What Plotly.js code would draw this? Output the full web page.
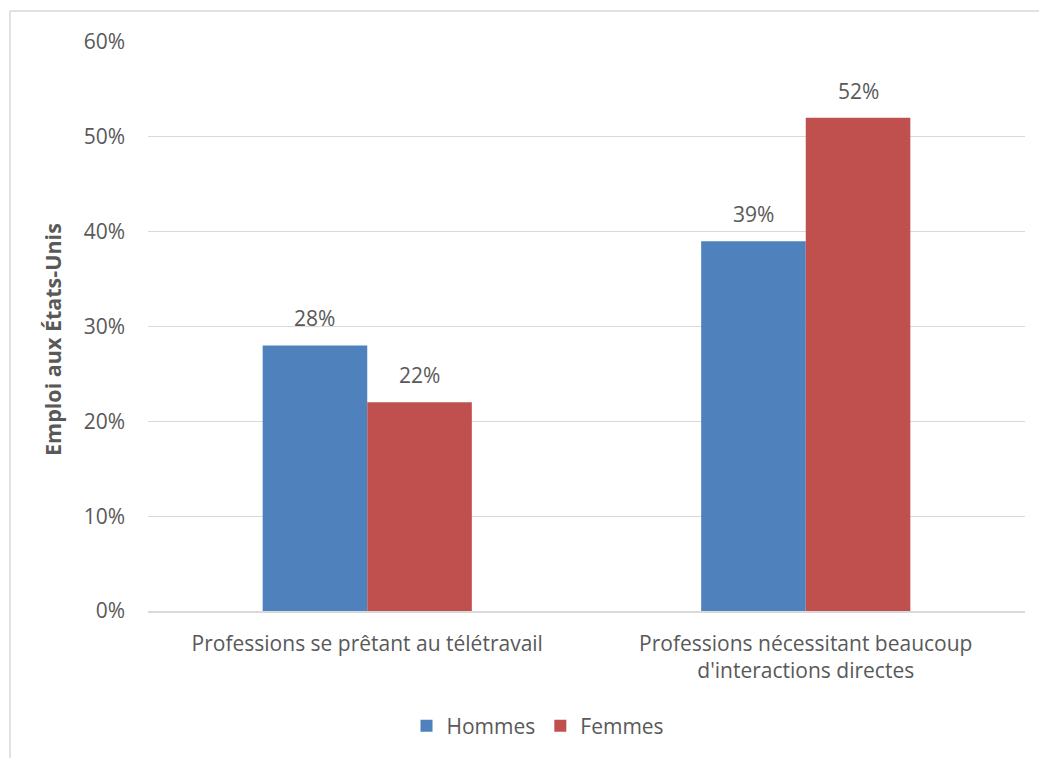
<!DOCTYPE html>
<html><head><meta charset="utf-8">
<script src="https://cdn.plot.ly/plotly-3.0.1.min.js"></script>
<style>html,body{margin:0;padding:0;background:#fff}</style>
</head><body>
<div id="chart" style="width:1039px;height:758px"></div>
<script>
const categories = ["Professions se prêtant au télétravail", "Professions nécessitant beaucoup<br>d'interactions directes"];
const hommes = [0.28, 0.39];
const femmes = [0.22, 0.52];
const seriesNames = ["Hommes", "Femmes"];
const yTitle = "Emploi aux États-Unis";

const font = {family: "'Open Sans', sans-serif", size: 21, color: "#595959"};
const fmt = v => Math.round(v*100) + "%";

const colors = ["#4F81BD", "#C0504D"];
const series = [hommes, femmes];
const traces = series.map((vals, i) => ({
  type:"bar", name: seriesNames[i], x: categories, y: vals, marker:{color: colors[i]}, hoverinfo:"none"
}));

const L=148, R=1025, T=42, B=611;
const pw = R-L, ph = B-T;
const barPx = pw/2*0.477/2;
const annotations = [];
series.forEach((vals, i) => vals.forEach((v, j) => annotations.push({
  x: categories[j], y: v, xref:"x", yref:"y", text: fmt(v), showarrow:false,
  xshift: (i - 0.5) * barPx, yanchor:"bottom", yshift: 11, font: font
})));
annotations.push({
  xref:"paper", yref:"paper", x:(52-L)/pw, y:(B-340)/ph, xanchor:"center", yanchor:"middle",
  text:"<b>"+yTitle+"</b>", textangle:-90, showarrow:false,
  font:{family:font.family, size:21.5, color:"#595959"}
});

const layout = {
  width:1039, height:758,
  margin:{l:L, r:1039-R, t:T, b:758-B, pad:0},
  paper_bgcolor:"#fff", plot_bgcolor:"#fff",
  font: font,
  barmode:"group", bargap:0.523, bargroupgap:0,
  showlegend:true,
  legend:{orientation:"h", x:(538-L)/pw, xanchor:"center", y:(B-726)/ph, yanchor:"middle", font:font, traceorder:"normal"},
  xaxis:{type:"category", showgrid:false, showline:true, linecolor:"#D9D9D9", linewidth:1.5, ticks:"", tickfont:font, ticklabelstandoff:13, automargin:false},
  yaxis:{range:[0,0.6], dtick:0.1, tickformat:".0%", showgrid:true, gridcolor:"#D9D9D9", gridwidth:1.3,
         zeroline:false, showline:false, ticks:"", tickfont:font, ticklabelstandoff:22, automargin:false},
  annotations: annotations,
  shapes:[
    {type:"line", xref:"paper", yref:"paper", x0:(10-L)/pw, x1:(10-L)/pw, y0:(B-11)/ph, y1:(B-760)/ph, line:{color:"#D9D9D9", width:1.5}},
    {type:"line", xref:"paper", yref:"paper", x0:(10-L)/pw, x1:(1040-L)/pw, y0:(B-11)/ph, y1:(B-11)/ph, line:{color:"#D9D9D9", width:1.5}}
  ]
};
Plotly.newPlot("chart", traces, layout, {displayModeBar:false, staticPlot:true});
</script>
</body></html>
